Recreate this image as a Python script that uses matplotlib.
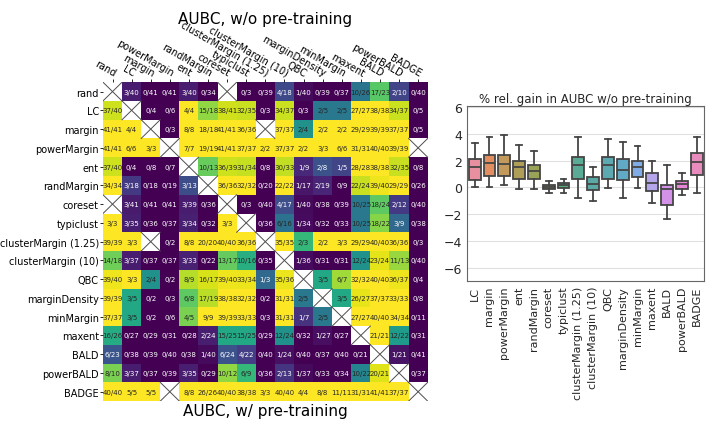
import numpy as np
import matplotlib.pyplot as plt
import seaborn as sns

methods = ["rand", "LC", "margin", "powerMargin", "ent", "randMargin", "coreset",
           "typiclust", "clusterMargin (1.25)", "clusterMargin (10)", "QBC",
           "marginDensity", "minMargin", "maxent", "BALD", "powerBALD", "BADGE"]

# wins of row method (w/ pre-training) vs column method (w/o pre-training), None = no comparison
wins = [
    [None, "3/40", "0/41", "0/41", "3/40", "0/34", None, "0/3", "0/39", "4/18", "1/40", "0/39", "0/37", "10/26", "17/23", "2/10", "0/40"],
    ["37/40", None, "0/4", "0/6", "4/4", "15/18", "38/41", "32/35", "0/3", "34/37", "0/3", "2/5", "2/5", "27/27", "38/38", "34/37", "0/5"],
    ["41/41", "4/4", None, "0/3", "8/8", "18/18", "41/41", "36/36", None, "37/37", "2/4", "2/2", "2/2", "29/29", "39/39", "37/37", "0/5"],
    ["41/41", "6/6", "3/3", None, "7/7", "19/19", "41/41", "37/37", "2/2", "37/37", "2/2", "3/3", "6/6", "31/31", "40/40", "39/39", None],
    ["37/40", "0/4", "0/8", "0/7", None, "10/13", "36/39", "31/34", "0/8", "30/33", "1/9", "2/8", "1/5", "28/28", "38/38", "32/35", "0/8"],
    ["34/34", "3/18", "0/18", "0/19", "3/13", None, "36/36", "32/32", "0/20", "22/22", "1/17", "2/19", "0/9", "22/24", "39/40", "29/29", "0/26"],
    [None, "3/41", "0/41", "0/41", "3/39", "0/36", None, "0/3", "0/40", "4/17", "1/40", "0/38", "0/39", "10/25", "18/24", "2/12", "0/40"],
    ["3/3", "3/35", "0/36", "0/37", "3/34", "0/32", "3/3", None, "0/36", "6/16", "1/34", "0/32", "0/33", "10/25", "18/22", "3/9", "0/38"],
    ["39/39", "3/3", None, "0/2", "8/8", "20/20", "40/40", "36/36", None, "35/35", "2/3", "2/2", "3/3", "29/29", "40/40", "36/36", "0/3"],
    ["14/18", "3/37", "0/37", "0/37", "3/33", "0/22", "13/17", "10/16", "0/35", None, "1/36", "0/31", "0/31", "12/24", "23/24", "11/13", "0/40"],
    ["39/40", "3/3", "2/4", "0/2", "8/9", "16/17", "39/40", "33/34", "1/3", "35/36", None, "3/5", "6/7", "32/32", "40/40", "36/37", "0/4"],
    ["39/39", "3/5", "0/2", "0/3", "6/8", "17/19", "38/38", "32/32", "0/2", "31/31", "2/5", None, "3/5", "26/27", "37/37", "33/33", "0/8"],
    ["37/37", "3/5", "0/2", "0/6", "4/5", "9/9", "39/39", "33/33", "0/3", "31/31", "1/7", "2/5", None, "27/27", "40/40", "34/34", "0/11"],
    ["16/26", "0/27", "0/29", "0/31", "0/28", "2/24", "15/25", "15/25", "0/29", "12/24", "0/32", "1/27", "0/27", None, "21/21", "12/22", "0/31"],
    ["6/23", "0/38", "0/39", "0/40", "0/38", "1/40", "6/24", "4/22", "0/40", "1/24", "0/40", "0/37", "0/40", "0/21", None, "1/21", "0/41"],
    ["8/10", "3/37", "0/37", "0/39", "3/35", "0/29", "10/12", "6/9", "0/36", "2/13", "1/37", "0/33", "0/34", "10/22", "20/21", None, "0/37"],
    ["40/40", "5/5", "5/5", None, "8/8", "26/26", "40/40", "38/38", "3/3", "40/40", "4/4", "8/8", "11/11", "31/31", "41/41", "37/37", None],
]

# boxplot of % relative gain
box_labels = methods[1:]
box_med = [1.5, 1.8, 1.75, 1.5, 1.2, 0.0, 0.2, 1.65, 0.28, 1.65, 1.3, 1.5, 0.3, -0.15, 0.25, 1.9]
box_q1 = [0.55, 0.85, 0.85, 0.65, 0.6, -0.15, -0.05, 0.65, -0.2, 0.6, 0.55, 0.75, -0.3, -1.3, -0.1, 0.95]
box_q3 = [2.1, 2.45, 2.4, 2.0, 1.7, 0.15, 0.35, 2.3, 0.75, 2.3, 2.1, 2.0, 1.1, 0.2, 0.5, 2.55]
box_lo = [0.0, 0.0, 0.15, -0.15, -0.15, -0.4, -0.4, -0.8, -1.05, -0.05, -0.8, -0.05, -1.2, -2.4, -0.6, -0.4]
box_hi = [3.3, 3.8, 3.9, 3.2, 2.7, 0.45, 0.65, 3.75, 1.55, 3.6, 3.4, 3.1, 1.95, 1.65, 1.05, 3.8]

n = len(methods)
ratio = np.full((n, n), np.nan)
for i in range(n):
    for j in range(n):
        if wins[i][j] is not None:
            a, b = wins[i][j].split("/")
            ratio[i, j] = int(a) / int(b)

fig = plt.figure(figsize=(7.2, 4.31), dpi=100)

# heatmap
ax = fig.add_axes([0.143, 0.067, 0.451, 0.74])
ax.pcolormesh(np.arange(n + 1), np.arange(n + 1), np.ma.masked_invalid(ratio),
              cmap="viridis", vmin=0, vmax=1)
for i in range(n):
    for j in range(n):
        if wins[i][j] is None:
            ax.plot([j, j + 1], [i, i + 1], color="0.3", lw=0.7)
            ax.plot([j, j + 1], [i + 1, i], color="0.3", lw=0.7)
        else:
            c = "white" if ratio[i, j] < 0.34 else "0.15"
            ax.text(j + 0.5, i + 0.5, wins[i][j], ha="center", va="center",
                    fontsize=5, color=c)
ax.set_xlim(0, n)
ax.set_ylim(n, 0)
ax.xaxis.tick_top()
ax.set_xticks(np.arange(n) + 0.5)
ax.set_xticklabels(methods, rotation=-30, ha="right", rotation_mode="anchor", fontsize=7)
ax.set_yticks(np.arange(n) + 0.5)
ax.set_yticklabels(methods, fontsize=7)
ax.tick_params(length=2, width=0.6, pad=1)
for s in ax.spines.values():
    s.set_visible(False)
fig.text(0.368, 0.955, "AUBC, w/o pre-training", ha="center", va="center", fontsize=11)
fig.text(0.368, 0.045, "AUBC, w/ pre-training", ha="center", va="center", fontsize=11)

# boxplot
bx = fig.add_axes([0.649, 0.346, 0.329, 0.406])
stats = []
for k in range(len(box_labels)):
    stats.append({"med": box_med[k], "q1": box_q1[k], "q3": box_q3[k],
                  "whislo": box_lo[k], "whishi": box_hi[k], "label": box_labels[k]})
cols = sns.color_palette("husl", len(box_labels), desat=0.75)
cols = [tuple(0.88 * np.array(c) + 0.12) for c in cols]
gray = "0.27"
res = bx.bxp(stats, showfliers=False, patch_artist=True, widths=0.8, capwidths=0.4,
             boxprops=dict(edgecolor=gray, linewidth=1.3),
             medianprops=dict(color=gray, linewidth=1.3),
             whiskerprops=dict(color=gray, linewidth=1.3),
             capprops=dict(color=gray, linewidth=1.3))
for patch, c in zip(res["boxes"], cols):
    patch.set_facecolor(c)
bx.set_ylim(-7, 6.1)
bx.set_xlim(0.5, len(box_labels) + 0.5)
bx.set_yticks([-6, -4, -2, 0, 2, 4, 6])
bx.yaxis.grid(True, color="0.88", lw=0.8)
bx.set_axisbelow(True)
bx.tick_params(axis="x", rotation=90, labelsize=8, length=0, colors="0.15")
bx.tick_params(axis="y", labelsize=9, length=0, colors="0.15")
for s in bx.spines.values():
    s.set_color("0.4")
bx.set_title("% rel. gain in AUBC w/o pre-training", fontsize=8.5, color="0.15", pad=3)

plt.savefig("out.png")
